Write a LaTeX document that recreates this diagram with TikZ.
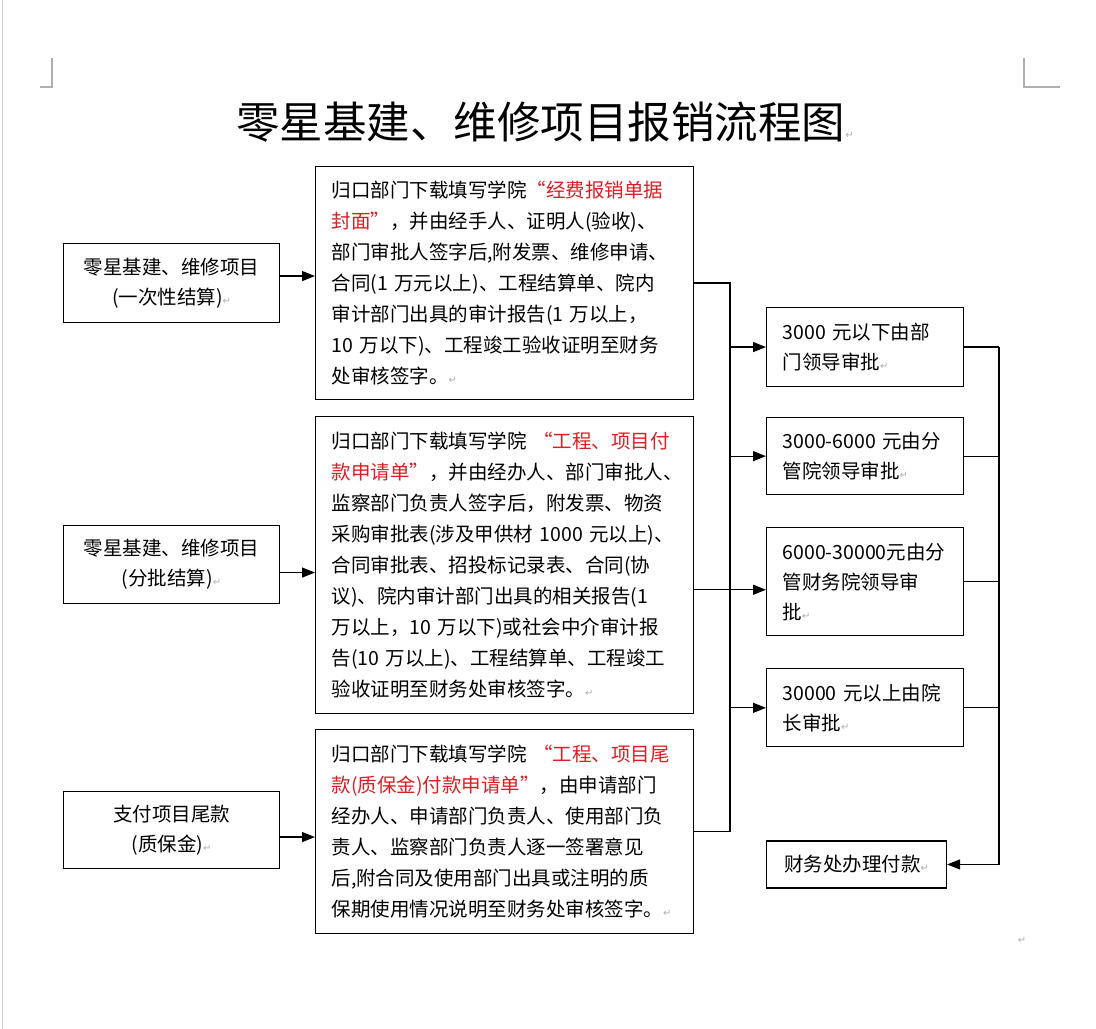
\documentclass[tikz,border=0pt]{standalone}
\usepackage{fontspec}
\setmainfont{Noto Sans CJK SC}
\newfontfamily\markfont{DejaVu Sans}
\usepackage{xcolor}
\usepackage{tikz}
\usetikzlibrary{arrows.meta, positioning}

\definecolor{formred}{RGB}{222,30,36}
\definecolor{markgray}{RGB}{175,175,175}
\newcommand{\pmark}{{\markfont\fontsize{10}{10}\selectfont\color{markgray}↵}}
\newcommand{\hl}[1]{\textcolor{formred}{#1}}

\begin{document}
\begin{tikzpicture}[
    x=1pt, y=-1pt,
    every node/.style={color=black, font=\fontsize{19.5}{30}\selectfont},
    box/.style={draw, rectangle, line width=1.1pt, inner sep=0pt},
    src/.style={box, minimum width=216pt, minimum height=78pt, align=center},
    doc/.style={box, minimum width=378pt, text width=346pt, align=left,
                font=\fontsize{19.5}{31}\selectfont},
    amt/.style={box, minimum width=197pt, minimum height=78pt, text width=165pt,
                align=left, font=\fontsize{19.5}{30}\selectfont},
    line/.style={line width=1.2pt, color=black},
    arrow/.style={line, -{Triangle[length=13pt, width=10pt]}},
    crop/.style={draw=markgray, line width=1.5pt}
]
\useasboundingbox (0,0) rectangle (1096,1029);

% page edge and corner marks
\draw[draw=markgray!60, line width=1pt] (2,0) -- (2,1029);
\draw[crop] (40,87) -- (52,87) -- (52,58);
\draw[crop] (1024,58) -- (1024,87) -- (1060,87);

% =========================================================
% TITLE
% =========================================================
\node[font=\fontsize{43.5}{50}\selectfont] (title) at (545,122)
    {零星基建、维修项目报销流程图\pmark};

% =========================================================
% LEFT: kinds of project
% =========================================================
\node[src, minimum height=79pt, anchor=north west] (L1) at (63,243)
    {零星基建、维修项目\\(一次性结算)\pmark};
\node[src, anchor=north west] (L2) at (63,525)
    {零星基建、维修项目\\(分批结算)\pmark};
\node[src, minimum height=77pt, anchor=north west] (L3) at (63,791)
    {支付项目尾款\\(质保金)\pmark};

% =========================================================
% MIDDLE: documents to hand in
% =========================================================
\node[doc, minimum height=233pt, anchor=north west] (M1) at (315,166)
    {归口部门下载填写学院\hl{“经费报销单据}\\
     \hl{封面”}，并由经手人、证明人(验收)、\\
     部门审批人签字后,附发票、维修申请、\\
     合同(1 万元以上)、工程结算单、院内\\
     审计部门出具的审计报告(1 万以上，\\
     10 万以下)、工程竣工验收证明至财务\\
     处审核签字。\pmark};
\node[doc, minimum height=297pt, below=16pt of M1] (M2)
    {归口部门下载填写学院 \hl{“工程、项目付}\\
     \hl{款申请单”}，并由经办人、部门审批人、\\
     监察部门负责人签字后，附发票、物资\\
     采购审批表(涉及甲供材 1000 元以上)、\\
     合同审批表、招投标记录表、合同(协\\
     议)、院内审计部门出具的相关报告(1\\
     万以上，10 万以下)或社会中介审计报\\
     告(10 万以上)、工程结算单、工程竣工\\
     验收证明至财务处审核签字。\pmark};
\node[doc, minimum height=204pt, below=15pt of M2] (M3)
    {归口部门下载填写学院 \hl{“工程、项目尾}\\
     \hl{款(质保金)付款申请单”}，由申请部门\\
     经办人、申请部门负责人、使用部门负\\
     责人、监察部门负责人逐一签署意见\\
     后,附合同及使用部门出具或注明的质\\
     保期使用情况说明至财务处审核签字。\pmark};

% =========================================================
% RIGHT: who signs, by amount
% =========================================================
\node[amt, minimum height=79pt, anchor=north west] (R1) at (766,307)
    {3000 元以下由部\\门领导审批\pmark};
\node[amt, minimum height=77pt, below=30pt of R1] (R2)
    {3000-6000 元由分\\管院领导审批\pmark};
\node[amt, minimum height=108pt, below=32pt of R2] (R3)
    {6000-30000元由分\\管财务院领导审\\批\pmark};
\node[amt, below=32pt of R3] (R4)
    {30000 元以上由院\\长审批\pmark};
\node[box, minimum width=180pt, minimum height=47pt,
      below=93pt of R4.south west, anchor=north west] (R5)
    {财务处办理付款\pmark};

\node (endmark) at (1022,940) {\pmark};

% =========================================================
% ARROWS
% =========================================================
\coordinate (busL) at (730,0);
\coordinate (busR) at (999,0);
\coordinate (l1out) at ([yshift=7pt]L1.east);
\coordinate (l2out) at ([yshift=-8pt]L2.east);
\coordinate (l3out) at ([yshift=-7pt]L3.east);
\coordinate (r3in) at ([yshift=-8pt]R3.west);

% project -> documents
\draw[arrow] (l1out) -- (l1out -| M1.west);
\draw[arrow] (l2out) -- (l2out -| M2.west);
\draw[arrow] (l3out) -- (l3out -| M3.west);

% documents -> collector -> amount boxes
\draw[line] (M1.east) -- (M1.east -| busL) -- (M3.east -| busL) -- (M3.east);
\draw[line] (M2.east |- r3in) -- (r3in -| busL);
\foreach \r in {R1,R2,R4}
    \draw[arrow] (\r.west -| busL) -- (\r.west);
\draw[arrow] (r3in -| busL) -- (r3in);

% amount boxes -> payment
\foreach \r in {R1,R2,R3,R4}
    \draw[line] (\r.east) -- (\r.east -| busR);
\draw[arrow] (R1.east -| busR) |- (R5.east);

\end{tikzpicture}
\end{document}
